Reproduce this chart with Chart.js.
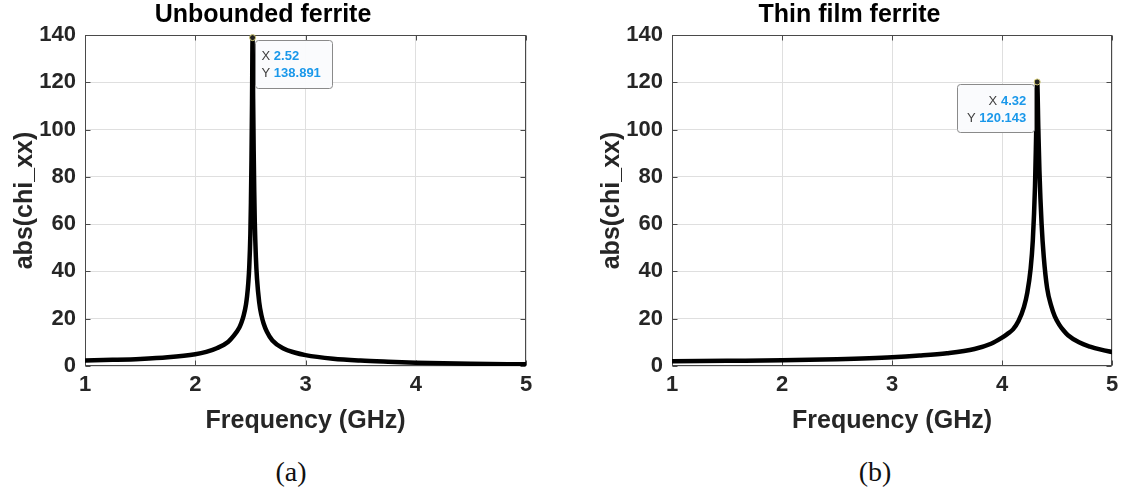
<!DOCTYPE html>
<html><head><meta charset="utf-8">
<script src="https://cdn.jsdelivr.net/npm/chart.js@4.4.1/dist/chart.umd.min.js"></script>
<style>
html,body{margin:0;padding:0;background:#fff;width:1123px;height:498px;overflow:hidden;position:relative;}
canvas{position:absolute;top:0;}
#c1{left:0;}
#c2{left:587px;}
.cap{position:absolute;font-family:"Liberation Serif","DejaVu Serif",serif;font-size:28px;line-height:32px;color:#111;top:456px;transform:translateX(-50%);white-space:nowrap;}
</style></head>
<body>
<canvas id="c1" width="611" height="450" style="width:611px;height:450px"></canvas>
<canvas id="c2" width="610" height="450" style="width:610px;height:450px"></canvas>
<div class="cap" style="left:291px">(a)</div>
<div class="cap" style="left:875px">(b)</div>
<script>
// ---- data ----
const titleA = "Unbounded ferrite";
const titleB = "Thin film ferrite";
const xLabel = "Frequency (GHz)";
const yLabel = "abs(chi_xx)";
const yTicks = [0, 20, 40, 60, 80, 100, 120, 140];
const xTicks = [1, 2, 3, 4, 5];

const freqA = [1.0, 1.25, 1.5, 1.75, 2.0, 2.1, 2.2, 2.3, 2.35, 2.4, 2.42, 2.44, 2.46, 2.47, 2.48, 2.49, 2.5, 2.505, 2.51, 2.515, 2.52, 2.525, 2.53, 2.535, 2.54, 2.55, 2.56, 2.58, 2.6, 2.62, 2.65, 2.7, 2.8, 2.9, 3.0, 3.25, 3.5, 3.75, 4.0, 4.5, 5.0];
const chiA  = [2.3, 2.6, 3.0, 3.7, 5.0, 6.0, 7.6, 10.3, 12.8, 16.3, 18.5, 21.5, 26, 29.5, 34.5, 42, 56, 69, 87, 111, 138.891, 113, 91, 74, 61, 46, 37, 27, 21.5, 18, 14.5, 10.8, 7.4, 5.7, 4.6, 3.1, 2.3, 1.8, 1.4, 0.95, 0.7];

const freqB = [1.0, 1.5, 2.0, 2.5, 3.0, 3.25, 3.5, 3.75, 3.9, 4.0, 4.05, 4.1, 4.15, 4.2, 4.23, 4.26, 4.28, 4.3, 4.31, 4.32, 4.33, 4.34, 4.36, 4.38, 4.41, 4.45, 4.48, 4.52, 4.56, 4.6, 4.7, 4.8, 4.9, 5.0];
const chiB  = [2.0, 2.2, 2.4, 2.9, 3.7, 4.4, 5.4, 7.2, 9.4, 12.0, 13.6, 15.5, 19, 25, 31, 41, 53, 76, 97, 120.143, 101, 83, 60, 46, 33, 25, 21, 17.5, 15, 13, 10, 8.2, 6.9, 5.9];

const tipA = {x: 2.52, y: 138.891};
const tipB = {x: 4.32, y: 120.143};

// ---- plugins ----
const framePlugin = {
  id: 'frame',
  beforeDatasetsDraw(chart) {
    const {ctx, chartArea: a, scales: {x, y}} = chart;
    const L = Math.round(a.left) + 0.5, R = Math.round(a.right) - 0.5;
    const T = Math.round(a.top) + 0.5, B = Math.round(a.bottom) - 0.5;
    ctx.save();
    ctx.strokeStyle = '#4a4a4a';
    ctx.lineWidth = 1;
    ctx.strokeRect(L, T, R - L, B - T);
    ctx.beginPath();
    x.ticks.forEach(t => {
      const px = Math.round(x.getPixelForValue(t.value)) + 0.5;
      ctx.moveTo(px, B); ctx.lineTo(px, B - 5);
      ctx.moveTo(px, T); ctx.lineTo(px, T + 5);
    });
    y.ticks.forEach(t => {
      const py = Math.round(y.getPixelForValue(t.value)) + 0.5;
      ctx.moveTo(L, py); ctx.lineTo(L + 5, py);
      ctx.moveTo(R, py); ctx.lineTo(R - 5, py);
    });
    ctx.stroke();
    ctx.restore();
  }
};

const tipPlugin = {
  id: 'datatip',
  afterDatasetsDraw(chart, args, opts) {
    const {ctx, scales: {x, y}} = chart;
    const px = x.getPixelForValue(opts.x), py = y.getPixelForValue(opts.y);
    const w = 77, h = 48;
    let x0, y0 = py + 2;
    if (opts.side === 'right') x0 = px + 2; else x0 = px - 3 - w;
    ctx.save();
    ctx.fillStyle = 'rgba(250,251,253,0.97)';
    ctx.strokeStyle = '#8a8a8a';
    ctx.lineWidth = 1;
    ctx.beginPath();
    ctx.roundRect(Math.round(x0) + 0.5, Math.round(y0) + 0.5, w, h, 3);
    ctx.fill(); ctx.stroke();
    const lines = [['X ', String(opts.x)], ['Y ', String(opts.y)]];
    const fN = '13px "Liberation Sans", Arial, sans-serif';
    const fB = 'bold 13px "Liberation Sans", Arial, sans-serif';
    ctx.textBaseline = 'middle';
    lines.forEach((ln, i) => {
      const ty = y0 + 17 + i * 17;
      ctx.font = fN; const w1 = ctx.measureText(ln[0]).width;
      ctx.font = fB; const w2 = ctx.measureText(ln[1]).width;
      let tx = opts.side === 'right' ? x0 + 7 : x0 + w - 8 - w1 - w2;
      ctx.font = fN; ctx.fillStyle = '#404040'; ctx.textAlign = 'left';
      ctx.fillText(ln[0], tx, ty);
      ctx.font = fB; ctx.fillStyle = '#1a98ea';
      ctx.fillText(ln[1], tx + w1, ty);
    });
    ctx.beginPath();
    ctx.arc(px, py, 3, 0, Math.PI * 2);
    ctx.fillStyle = '#222';
    ctx.fill();
    ctx.strokeStyle = '#d8cf7a';
    ctx.lineWidth = 1;
    ctx.stroke();
    ctx.restore();
  }
};

const FONT = '"Liberation Sans", Arial, Helvetica, sans-serif';

function makeChart(id, title, xs, ys, tip, side, padRight) {
  const pts = xs.map((v, i) => ({x: v, y: ys[i]}));
  return new Chart(document.getElementById(id), {
    type: 'line',
    data: { datasets: [{ data: pts, borderColor: '#000', borderWidth: 4.5, pointRadius: 0, fill: false, cubicInterpolationMode: 'monotone', borderJoinStyle: 'round', borderCapStyle: 'round' }] },
    options: {
      responsive: false, animation: false, events: [],
      layout: { padding: { left: 0, right: padRight, top: 0, bottom: 0 } },
      plugins: {
        legend: { display: false }, tooltip: { enabled: false },
        title: { display: true, text: title, color: '#000', font: { family: FONT, size: 25, weight: 'bold' }, padding: { top: 0, bottom: 5 } },
        datatip: { x: tip.x, y: tip.y, side: side }
      },
      scales: {
        x: {
          type: 'linear', min: xTicks[0], max: xTicks[xTicks.length - 1],
          afterBuildTicks: s => { s.ticks = xTicks.map(v => ({value: v})); },
          afterFit: s => { s.height = 84; },
          grid: { color: '#dfdfdf', drawTicks: false },
          border: { display: false },
          ticks: { color: '#262626', padding: 6, font: { family: FONT, size: 22, weight: 'bold' }, maxRotation: 0 },
          title: { display: true, text: xLabel, color: '#262626', font: { family: FONT, size: 25, weight: 'bold' }, padding: { top: 0, bottom: 14 } }
        },
        y: {
          min: yTicks[0], max: yTicks[yTicks.length - 1],
          afterBuildTicks: s => { s.ticks = yTicks.map(v => ({value: v})); },
          afterFit: s => { s.width = 85; },
          grid: { color: '#dfdfdf', drawTicks: false },
          border: { display: false },
          ticks: { color: '#262626', padding: 9, font: { family: FONT, size: 22, weight: 'bold' } },
          title: { display: true, text: yLabel, color: '#262626', font: { family: FONT, size: 25, weight: 'bold' }, padding: { top: 10, bottom: 0 } }
        }
      }
    },
    plugins: [framePlugin, tipPlugin]
  });
}

makeChart('c1', titleA, freqA, chiA, tipA, 'right', 85);
makeChart('c2', titleB, freqB, chiB, tipB, 'left', 85);
</script>
</body></html>
